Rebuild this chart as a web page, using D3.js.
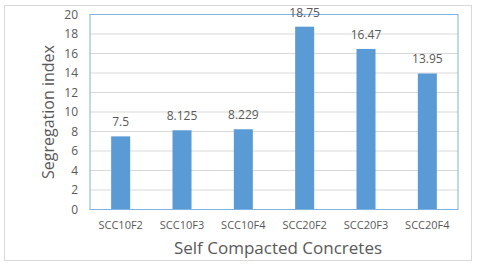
<!DOCTYPE html>
<html><head><meta charset="utf-8">
<script src="https://cdn.jsdelivr.net/npm/d3@7"></script>
<style>body{margin:0;background:#fff}svg{display:block}text{font-family:"Open Sans","Liberation Sans",sans-serif;fill:#595959}</style>
</head><body><svg id="c" width="480" height="264"></svg>
<script>
const categories = ["SCC10F2","SCC10F3","SCC10F4","SCC20F2","SCC20F3","SCC20F4"];
const values = [7.5, 8.125, 8.229, 18.75, 16.47, 13.95];
const valueLabels = ["7.5","8.125","8.229","18.75","16.47","13.95"];
const yTicks = [0,2,4,6,8,10,12,14,16,18,20];
const xTitle = "Self Compacted Concretes";
const yTitle = "Segregation index";

const svg = d3.select("#c");
const L = 90, R = 458, T = 14.5, B = 209.5;
svg.append("rect").attr("x",4.5).attr("y",5.5).attr("width",467).attr("height",255)
  .attr("fill","#fff").attr("stroke","#d9d9d9");
const x = d3.scaleBand().domain(categories).range([L,R]).paddingInner(0.69).paddingOuter(0.345);
const y = d3.scaleLinear().domain([0,20]).range([B,T]);

const g = svg.append("g");
g.selectAll("line.grid").data(yTicks).enter().append("line")
  .attr("x1",L).attr("x2",R).attr("y1",d=>y(d)).attr("y2",d=>y(d))
  .attr("stroke","#d9d9d9").attr("stroke-width",1);

g.selectAll("rect.bar").data(values).enter().append("rect")
  .attr("x",(d,i)=>x(categories[i])).attr("width",x.bandwidth())
  .attr("y",d=>y(d)).attr("height",d=>B-y(d)).attr("fill","#5b9bd5");

svg.append("rect").attr("x",L).attr("y",T).attr("width",R-L).attr("height",B-T)
  .attr("fill","none").attr("stroke","#7fb2e0").attr("stroke-width",1);

const ya = d3.axisLeft(y).tickValues(yTicks).tickSize(0).tickPadding(12);
const yg = svg.append("g").attr("transform",`translate(${L},0)`).call(ya);
yg.select(".domain").remove();
yg.selectAll("text").style("font-size","12px").attr("fill","#595959");

const xa = d3.axisBottom(x).tickSize(0).tickPadding(12);
const xg = svg.append("g").attr("transform",`translate(0,${B})`).call(xa);
xg.select(".domain").remove();
xg.selectAll("text").style("font-size","11px").attr("fill","#595959");

svg.selectAll("text.lbl").data(values).enter().append("text")
  .attr("x",(d,i)=>x(categories[i])+x.bandwidth()/2).attr("y",d=>y(d)-10)
  .attr("text-anchor","middle").style("font-size","12px").text((d,i)=>valueLabels[i]);

svg.append("text").attr("x",(L+R)/2 + 4).attr("y",254).attr("text-anchor","middle")
  .style("font-size","17px").text(xTitle);
svg.append("text").attr("transform",`translate(54,${(T+B)/2}) rotate(-90)`).attr("text-anchor","middle")
  .style("font-size","16px").text(yTitle);
</script></body></html>
